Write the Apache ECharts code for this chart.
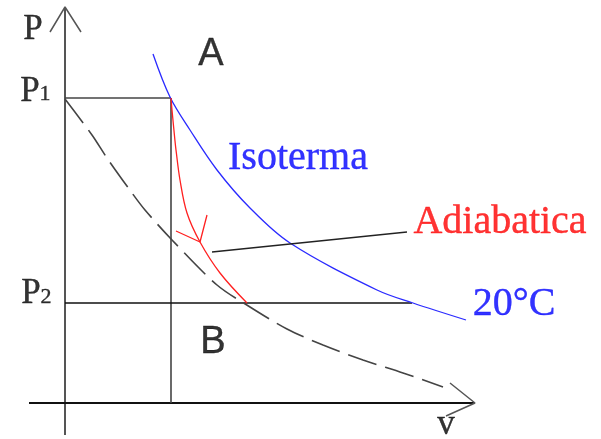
<!DOCTYPE html>
<html>
<head>
<meta charset="utf-8">
<style>
  html, body { margin: 0; padding: 0; background: #fff; }
  #chart { width: 601px; height: 439px; }
</style>
<script src="https://cdn.jsdelivr.net/npm/echarts@6/dist/echarts.min.js"></script>
</head>
<body>
<div id="chart"></div>
<script>
// volume / pressure readings, origin at the axes crossing
const p1 = 305;
const p2 = 100;
const v1 = 106;

const isotherm = [[88, 349], [105, 306], [125, 273], [152, 233], [185, 195],
  [225, 160], [312, 113], [348, 100], [401, 83]];
const adiabat = [[106, 305], [107, 293], [110, 262], [111, 253], [115, 223],
  [122, 190], [135, 161], [155, 130], [182, 100]];
const adiabatArrow = [[111, 172], [135, 161], [142, 188]];
const dashed = [[0, 304], [27, 268], [42, 245], [67, 210], [80, 193], [107, 163],
  [152, 118], [185, 96], [222, 74], [258, 58], [298, 43], [338, 30], [378, 16]];
const pointer = [[147, 151], [342, 171]];

const yAxisLine = [[0, 396], [0, -32]];
const yArrow = [[-15, 371], [0, 396], [16, 371]];
const xAxisLine = [[-36, 0], [410, 0]];
const xArrow = [[385, 20], [410, 0], [381, -13]];

const p1Line = [[0, p1], [v1, p1]];
const v1Line = [[v1, p1], [v1, 0]];
const p2Line = [[0, p2], [347, p2]];

// text, anchor, style key, colour
const labels = [
  ['P', [-32, 373], 'p', '#000'],
  ['P', [-35, 311], 'p', '#000'],
  ['1', [-20, 309], 's', '#000'],
  ['P', [-34, 109], 'p', '#000'],
  ['2', [-19, 106], 's', '#000'],
  ['A', [146, 348], 'a', '#000'],
  ['B', [148, 60], 'a', '#000'],
  ['Isoterma', [233, 245], 't', '#0000ff'],
  ['Adiabatica', [435, 181], 't', '#ff0000'],
  ['20°C', [449, 99], 't', '#0000ff'],
  ['v', [381, -22], 'p', '#000']
];

const fonts = {
  p: { fontFamily: 'Liberation Serif', fontSize: 35 },
  s: { fontFamily: 'Liberation Serif', fontSize: 22 },
  a: { fontFamily: 'Liberation Sans', fontSize: 38 },
  t: { fontFamily: 'Liberation Serif', fontSize: 40 }
};

const myChart = echarts.init(document.getElementById('chart'));

function line(data, color, width, extra) {
  return Object.assign({
    type: 'line',
    data: data,
    showSymbol: false,
    symbol: 'none',
    silent: true,
    lineStyle: { color: color, width: width }
  }, extra || {});
}

const series = [
  line(yAxisLine, '#555', 2),
  line(yArrow, '#555', 1.5),
  line(xAxisLine, '#111', 2),
  line(xArrow, '#555', 1.5),
  line(p1Line, '#444', 1.6),
  line(v1Line, '#444', 1.6),
  line(p2Line, '#111', 1.6),
  line(dashed, '#444', 1.6, { smooth: 0.3, lineStyle: { color: '#444', width: 1.6, type: [30, 9] } }),
  line(isotherm, '#2a2aff', 1.3, { smooth: 0.35 }),
  line(adiabat, '#ff2020', 1.3, { smooth: 0.35 }),
  line(adiabatArrow, '#ff2020', 1.3),
  line(pointer, '#222', 1.6),
  {
    type: 'scatter',
    symbolSize: 0,
    silent: true,
    data: labels.map(function (l) {
      return {
        value: l[1],
        label: Object.assign({
          show: true,
          position: 'inside',
          formatter: l[0],
          color: l[3],
          textBorderColor: l[3],
          textBorderWidth: 0.4,
          align: 'center',
          verticalAlign: 'middle'
        }, fonts[l[2]])
      };
    })
  }
];

myChart.setOption({
  animation: false,
  grid: { left: 0, right: 0, top: 0, bottom: 0 },
  xAxis: { type: 'value', min: -65, max: 536, show: false },
  yAxis: { type: 'value', min: -36, max: 403, show: false },
  series: series
});
</script>
</body>
</html>
